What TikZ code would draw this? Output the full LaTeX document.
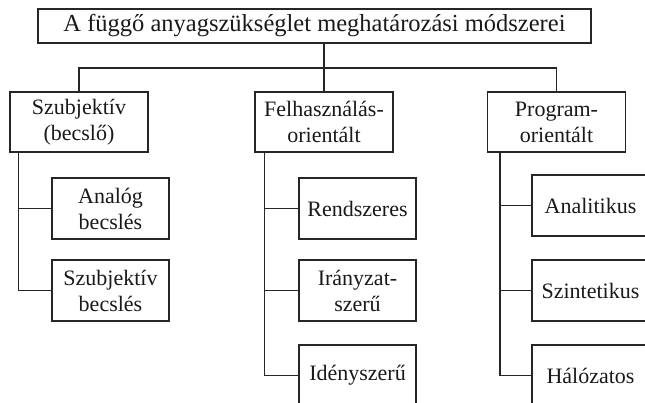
\documentclass[tikz,border=0pt]{standalone}
\usepackage{fontspec}
\setmainfont{Liberation Serif}
\begin{document}
\begin{tikzpicture}[x=1pt,y=-1pt,
  box/.style={draw=black!85, text=black!90, line width=1.2pt, align=center,
    inner sep=0pt, font=\fontsize{22}{26}\selectfont},
  headbox/.style={box, minimum width=553pt, minimum height=34pt,
    font=\fontsize{24.5}{28}\selectfont},
  groupbox/.style={box, minimum width=138pt, minimum height=60pt},
  leafbox/.style={box, minimum width=117pt, minimum height=61pt},
  link/.style={draw=black!85, line width=1.2pt}]
\useasboundingbox (0,0) rectangle (645,403);

% root
\node[headbox] (root) at (314.5,26) {A függő anyagszükséglet meghatározási módszerei};

% method groups
\node[groupbox] (subj) at (79,122) {Szubjektív\\(becslő)};
\node[groupbox] (use)  at (324,122) {Felhasználás-\\orientált};
\node[groupbox] (prog) at (556.5,122) {Program-\\orientált};

% leaves: subjective
\node[leafbox] (s1) at (110.5,208.5) {Analóg\\becslés};
\node[leafbox] (s2) at (110.5,290.5) {Szubjektív\\becslés};

% leaves: usage oriented
\node[leafbox] (u1) at (357.5,208.5) {Rendszeres};
\node[leafbox] (u2) at (357.5,290.5) {Irányzat-\\szerű};
\node[leafbox] (u3) at (357.5,375.5) {Idényszerű};

% leaves: program oriented
\node[leafbox] (p1) at (590.5,205.5) {Analitikus};
\node[leafbox] (p2) at (590.5,290.5) {Szintetikus};
\node[leafbox] (p3) at (590.5,375.5) {Hálózatos};

% root to groups
\coordinate (bus) at (0,68);
\draw[link] (use.north |- root.south) -- (use.north);
\draw[link] (subj.north) -- (subj.north |- bus) -- (prog.north |- bus) -- (prog.north);

% groups to leaves
\coordinate (sx) at ([xshift=9pt]subj.south west);
\draw[link] (sx) |- (s2.west);
\draw[link] (sx |- s1.west) -- (s1.west);

\coordinate (ux) at ([xshift=10pt]use.south west);
\draw[link] (ux) |- (u3.west);
\draw[link] (ux |- u1.west) -- (u1.west);
\draw[link] (ux |- u2.west) -- (u2.west);

\coordinate (px) at ([xshift=13pt]prog.south west);
\draw[link] (px) |- (p3.west);
\draw[link] (px |- p1.west) -- (p1.west);
\draw[link] (px |- p2.west) -- (p2.west);
\end{tikzpicture}
\end{document}
